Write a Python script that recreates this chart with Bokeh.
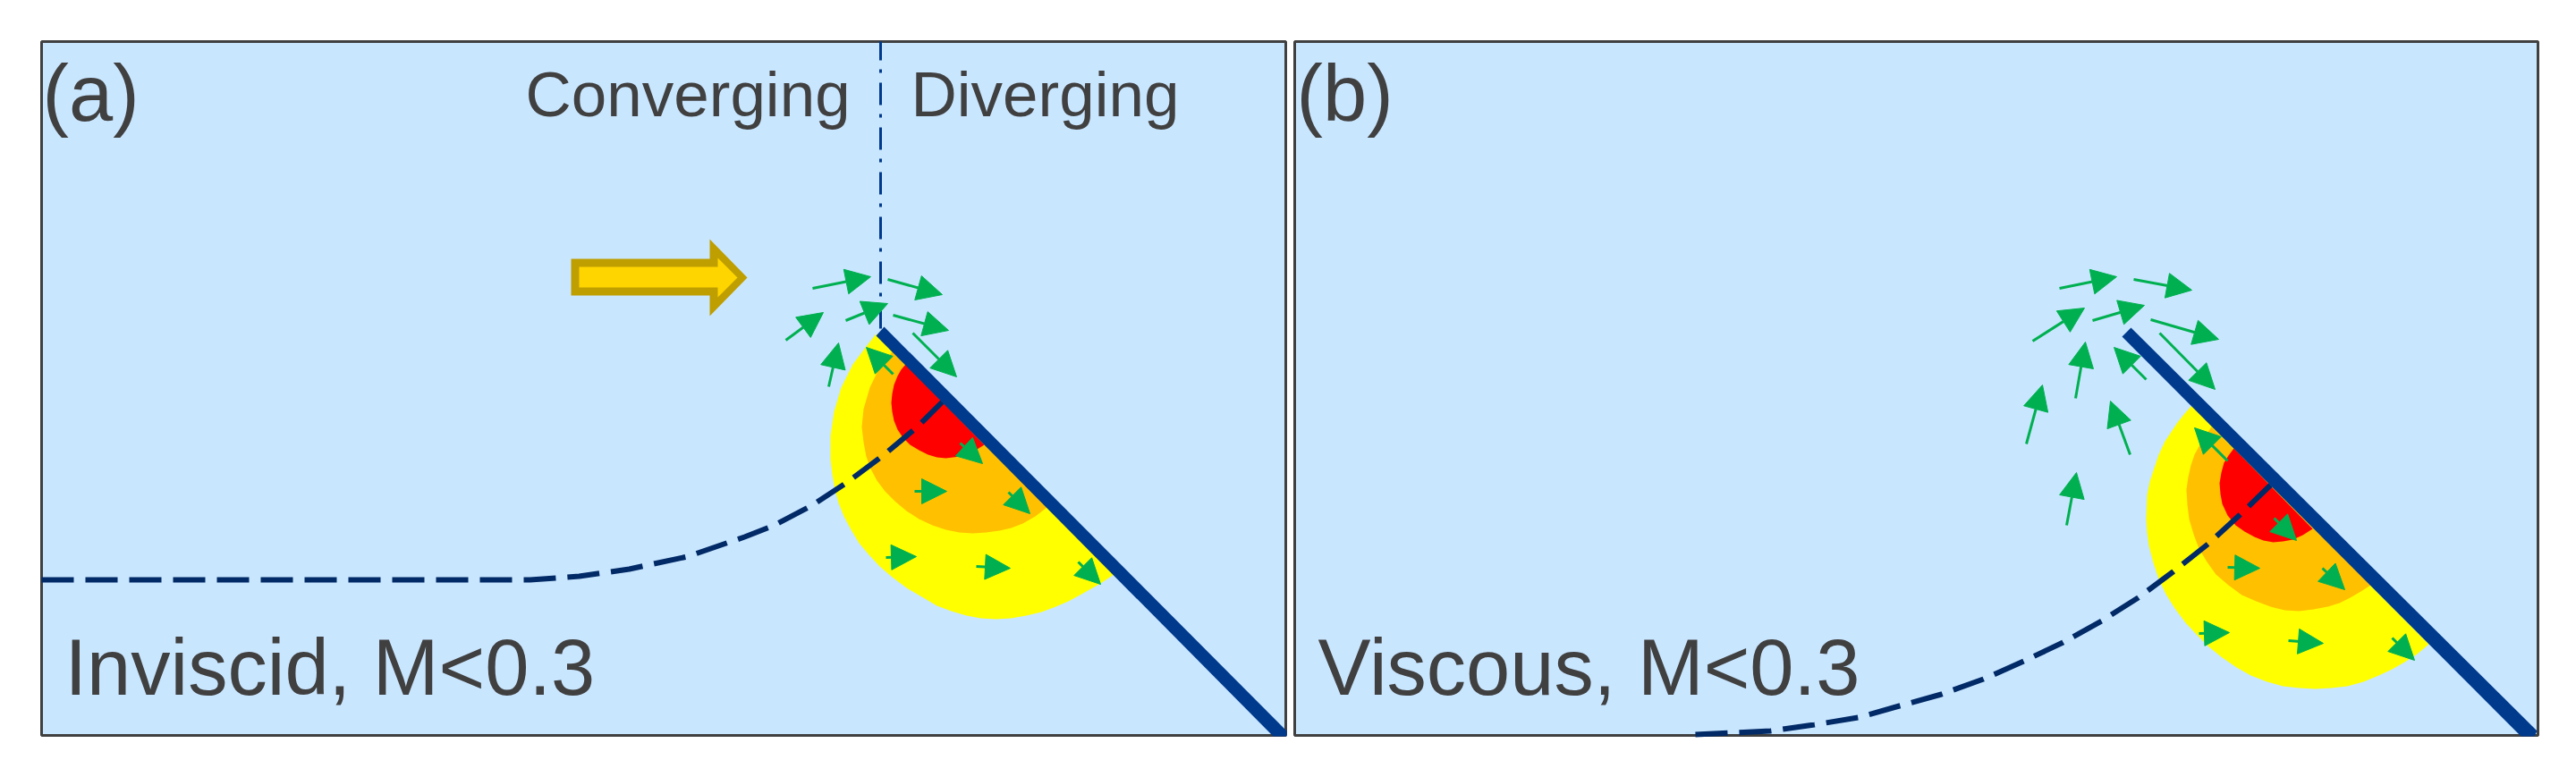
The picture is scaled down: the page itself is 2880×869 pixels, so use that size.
from bokeh.core.properties import value
from bokeh.embed import file_html
from bokeh.models import Arrow, ColumnDataSource, NormalHead
from bokeh.plotting import figure
from bokeh.resources import INLINE

# panel frames
panel_left = [46, 1447]
panel_right = [1437, 2837]
panel_top = [46, 46]
panel_bottom = [822, 822]

# pressure zones on the plate, panel (a)
yellow_a_x = [979, 968, 953, 940, 932, 928, 928, 930, 933, 937, 943, 951, 960, 971, 983, 997, 1013, 1030, 1047, 1063, 1080, 1096, 1113, 1130, 1147, 1164, 1180, 1194, 1207, 1230, 1245]
yellow_a_y = [373, 387, 407, 433, 460, 487, 513, 530, 547, 562, 577, 592, 607, 620, 633, 645, 657, 667, 677, 683, 688, 691, 692, 691, 688, 684, 678, 672, 665, 652, 642]
orange_a_x = [997, 983, 972, 965, 963, 965, 968, 973, 980, 989, 1000, 1013, 1027, 1042, 1057, 1072, 1087, 1102, 1117, 1130, 1143, 1157, 1170]
orange_a_y = [393, 410, 433, 457, 477, 494, 510, 524, 537, 549, 560, 571, 580, 587, 592, 595, 596, 595, 593, 590, 585, 577, 567]
red_a_x = [1012, 1007, 1003, 999, 997, 996, 997, 999, 1003, 1009, 1017, 1027, 1037, 1047, 1057, 1065, 1073, 1080, 1087, 1100]
red_a_y = [407, 413, 420, 430, 440, 450, 460, 470, 480, 489, 497, 503, 508, 511, 512, 511, 510, 508, 505, 497]

# pressure zones, panel (b)
yellow_b_x = [2450, 2442, 2434, 2420, 2413, 2408, 2403, 2400, 2399, 2400, 2402, 2407, 2413, 2421, 2431, 2443, 2456, 2469, 2484, 2500, 2516, 2534, 2552, 2570, 2588, 2606, 2624, 2642, 2659, 2674, 2688, 2702, 2715]
yellow_b_y = [453, 462, 472, 493, 508, 523, 538, 553, 580, 595, 610, 629, 647, 664, 680, 696, 710, 723, 735, 746, 755, 762, 767, 769, 770, 769, 767, 762, 755, 748, 740, 731, 720]
orange_b_x = [2472, 2465, 2459, 2453, 2449, 2446, 2444, 2445, 2447, 2452, 2458, 2467, 2477, 2491, 2506, 2522, 2538, 2554, 2570, 2586, 2602, 2615, 2627, 2639, 2650]
orange_b_y = [477, 487, 497, 508, 520, 533, 547, 564, 580, 597, 613, 628, 642, 654, 665, 672, 678, 682, 683, 681, 678, 674, 668, 661, 654]
red_b_x = [2497, 2491, 2486, 2483, 2481, 2482, 2484, 2490, 2499, 2509, 2520, 2530, 2541, 2552, 2563, 2574, 2585]
red_b_y = [501, 509, 517, 528, 540, 552, 563, 576, 587, 594, 600, 604, 606, 605, 603, 598, 591]

# plates
plate_a_x = [979, 988, 1438, 1438, 1423]
plate_a_y = [375, 365, 817, 823, 823]
plate_b_x = [2372, 2382, 2836, 2833, 2818]
plate_b_y = [376, 366, 817, 823, 823]

# dividing line between converging and diverging
divider_x = [984, 984]
divider_y = [46, 370]

# stagnation streamlines
stream_a_x = [46, 592, 647, 703, 768, 832, 865, 907, 948, 988, 1025, 1053]
stream_a_y = [648, 648, 644, 636, 622, 600, 587, 565, 538, 508, 477, 449]
stream_b_x = [1895, 1979, 2028, 2077, 2123, 2170, 2217, 2262, 2306, 2349, 2390, 2429, 2468, 2504, 2538]
stream_b_y = [821, 817, 810, 802, 789, 776, 759, 739, 718, 694, 668, 639, 608, 575, 542]

# green velocity arrows, tail and tip
arrow_a_x0 = [908, 992, 945, 998, 878, 1020, 926, 998, 1022, 1073, 1127, 990, 1091, 1205]
arrow_a_y0 = [322, 312, 358, 352, 380, 372, 432, 418, 549, 495, 550, 623, 633, 628]
arrow_a_x1 = [973, 1053, 992, 1060, 920, 1069, 937, 968, 1058, 1098, 1151, 1024, 1129, 1230]
arrow_a_y1 = [309, 329, 339, 369, 349, 421, 383, 388, 549, 518, 574, 622, 635, 653]

arrow_b_x0 = [2302, 2385, 2339, 2272, 2404, 2414, 2320, 2399, 2265, 2381, 2310, 2490, 2542, 2490, 2596, 2458, 2558, 2674]
arrow_b_y0 = [322, 312, 358, 381, 357, 372, 445, 424, 496, 508, 587, 515, 579, 634, 635, 708, 716, 713]
arrow_b_x1 = [2366, 2450, 2397, 2330, 2480, 2476, 2331, 2363, 2283, 2359, 2321, 2453, 2567, 2526, 2621, 2492, 2597, 2699]
arrow_b_y1 = [309, 324, 341, 344, 379, 435, 382, 388, 430, 448, 528, 478, 604, 635, 659, 707, 719, 738]

# incoming flow arrow, outline then inside
flow_outer_x = [638, 793, 793, 835, 793, 793, 638]
flow_outer_y = [289, 289, 267, 310, 353, 330, 330]
flow_inner_x = [647, 802, 802, 824, 802, 802, 647]
flow_inner_y = [298, 298, 288, 310, 332, 321, 321]

# labels
label_text = ["(a)", "(b)", "Converging", "Diverging", "Inviscid, M<0.3", "Viscous, M<0.3"]
label_x = [47, 1449, 587, 1018, 72, 1473]
label_y = [104, 104, 105, 105, 746, 746]
label_size = ["88.5px", "88.5px", "71px", "71px", "88.5px", "88.5px"]

BLUE = "#003a8c"
GREEN = "#00b050"
TEXT = "#404040"
STREAM = "#012a66"

p = figure(
    width=2864,
    height=853,
    x_range=(0, 2864),
    y_range=(853, 0),
    output_backend="svg",
    toolbar_location=None,
    min_border=0,
    outline_line_color=None,
    background_fill_color="white",
    border_fill_color="white",
)
p.axis.visible = False
p.grid.visible = False

p.quad(left=panel_left, right=panel_right, top=panel_top, bottom=panel_bottom,
       fill_color="#c9e6ff", line_color="#404040", line_width=3)

p.patch(yellow_a_x, yellow_a_y, fill_color="#ffff00", line_color=None)
p.patch(orange_a_x, orange_a_y, fill_color="#ffc000", line_color=None)
p.patch(red_a_x, red_a_y, fill_color="#ff0000", line_color=None)
p.patch(yellow_b_x, yellow_b_y, fill_color="#ffff00", line_color=None)
p.patch(orange_b_x, orange_b_y, fill_color="#ffc000", line_color=None)
p.patch(red_b_x, red_b_y, fill_color="#ff0000", line_color=None)

p.line(divider_x, divider_y, line_color=BLUE, line_width=3, line_dash=[25, 10, 4, 11], line_dash_offset=4)

p.line(stream_a_x, stream_a_y, line_color=STREAM, line_width=6, line_dash=[36, 13])
p.line(stream_b_x, stream_b_y, line_color=STREAM, line_width=6, line_dash=[36, 13])

p.patch(plate_a_x, plate_a_y, fill_color=BLUE, line_color=None)
p.patch(plate_b_x, plate_b_y, fill_color=BLUE, line_color=None)

p.patch(flow_outer_x, flow_outer_y, fill_color="#bf9e00", line_color=None)
p.patch(flow_inner_x, flow_inner_y, fill_color="#ffd500", line_color=None)

for x0, y0, x1, y1 in [(arrow_a_x0, arrow_a_y0, arrow_a_x1, arrow_a_y1),
                       (arrow_b_x0, arrow_b_y0, arrow_b_x1, arrow_b_y1)]:
    source = ColumnDataSource(dict(x0=x0, y0=y0, x1=x1, y1=y1))
    head = NormalHead(size=28, fill_color=GREEN, line_color=GREEN, line_width=1)
    p.add_layout(Arrow(end=head, x_start="x0", y_start="y0", x_end="x1", y_end="y1",
                       source=source, line_color=GREEN, line_width=3))

p.text(label_x, label_y, text=label_text, text_font=value("Liberation Sans"), text_font_size=label_size,
       text_color=TEXT, text_baseline="alphabetic", text_align="left")

open("out.html", "w").write(file_html(p, INLINE))
